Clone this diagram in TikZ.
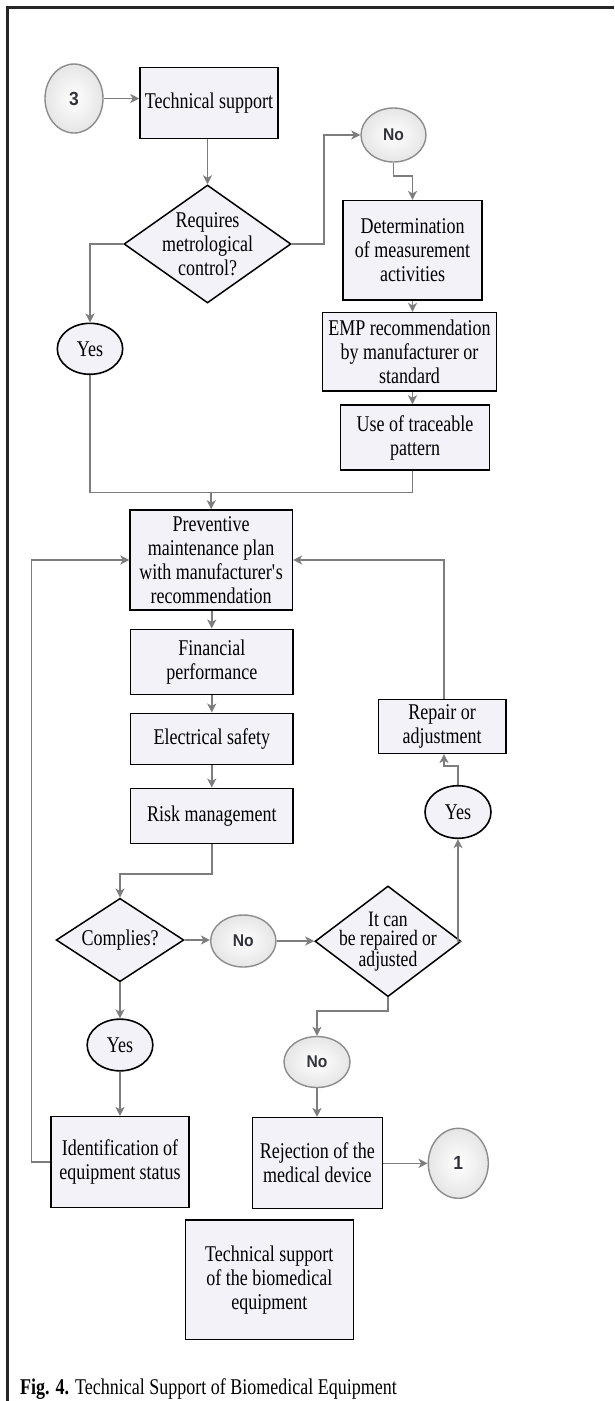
\documentclass[tikz,border=0pt]{standalone}
\usepackage{fontspec}
\setmainfont{Liberation Serif}[FakeStretch=0.8]
\newfontfamily\nofont{Liberation Sans}[FakeStretch=0.92]
\usetikzlibrary{shapes.geometric,arrows.meta,positioning}
\definecolor{boxfill}{RGB}{242,242,248}
\definecolor{conncol}{RGB}{125,125,125}
\definecolor{ovalline}{RGB}{140,140,140}
\definecolor{notext}{RGB}{50,50,60}
\tikzset{
  txt/.style={font=\fontsize{22.5}{24}\selectfont, align=center},
  box/.style={draw=black, line width=1.5pt, fill=boxfill, rectangle, inner sep=0pt, txt},
  dia/.style={draw=black, line width=1.5pt, fill=boxfill, diamond, inner sep=0pt},
  yesov/.style={draw=black, line width=1.6pt, fill=boxfill, ellipse, inner sep=0pt, txt},
  grayov/.style={draw=ovalline, line width=1.4pt, ellipse, inner sep=0pt, inner color=white, outer color=black!10, text=notext},
  conn/.style={draw=conncol, line width=1.6pt, -{Stealth[length=9pt,width=9pt,inset=2.5pt]}},
  plain/.style={draw=conncol, line width=1.6pt}
}
\begin{document}
\begin{tikzpicture}[x=1pt,y=-1pt]
\useasboundingbox (0,0) rectangle (614,1401);
% frame
\draw[line width=3pt, black!85] (7,1401) -- (7,7.3) -- (614,7.3);

% nodes
\node[grayov, minimum width=58, minimum height=69, font=\nofont\bfseries\fontsize{19}{20}\selectfont] (c3) at (74,98.5) {3};
\node[box, minimum width=138, minimum height=70.6] (ts) at (209,103) {Technical support};
\node[dia, minimum width=167, minimum height=118] (d1) at (207.5,244) {};
\node[txt] (d1t) at (207.5,244) {Requires\\metrological\\control?};
\node[grayov, minimum width=65, minimum height=54, font=\nofont\bfseries\fontsize{17}{18}\selectfont] (noA) at (393.5,135) {No};
\node[box, minimum width=139, minimum height=99.3] (dma) at (412.5,250.3) {Determination\\of measurement\\activities};
\node[box, minimum width=174.4, minimum height=78.3] (emp) at (409.5,351.8) {EMP recommendation\\by manufacturer or\\standard};
\node[box, minimum width=148.6, minimum height=65] (utp) at (415,437.5) {Use of traceable\\pattern};
\node[yesov, minimum width=65.4, minimum height=51] (yesA) at (90,348.8) {Yes};
\node[box, minimum width=162.3, minimum height=100] (pmp) at (211.2,560) {Preventive\\maintenance plan\\with manufacturer\textquotesingle s\\recommendation};
\node[box, minimum width=162.3, minimum height=65] (fp) at (211.8,661.8) {Financial\\performance};
\node[box, minimum width=162.3, minimum height=51] (es) at (211.8,738.8) {Electrical safety};
\node[box, minimum width=162.3, minimum height=55] (rm) at (211.8,815.8) {Risk management};
\node[box, minimum width=127.7, minimum height=54] (rep) at (442.2,726.3) {Repair or\\adjustment};
\node[yesov, minimum width=66, minimum height=52.6] (yesB) at (458,812) {Yes};
\node[dia, minimum width=127.7, minimum height=83.4] (comp) at (120,940) {};
\node[txt] (compt) at (120,940) {Complies?};
\node[grayov, minimum width=65.3, minimum height=52, font=\nofont\bfseries\fontsize{17}{18}\selectfont] (noB) at (243.3,941) {No};
\node[dia, minimum width=146, minimum height=110.7] (d2) at (388,941.3) {};
\node[txt, font=\fontsize{22}{19}\selectfont] (d2t) at (388,941.3) {It can\\be repaired or\\adjusted};
\node[yesov, minimum width=65.7, minimum height=51.7] (yesC) at (120,1045) {Yes};
\node[grayov, minimum width=66, minimum height=51, font=\nofont\bfseries\fontsize{17}{18}\selectfont] (noC) at (317,1062) {No};
\node[box, minimum width=138, minimum height=91] (ident) at (120,1162.2) {Identification of\\equipment status};
\node[box, minimum width=130, minimum height=90.6] (rej) at (317.3,1163) {Rejection of the\\medical device};
\node[grayov, minimum width=60, minimum height=70, font=\nofont\bfseries\fontsize{19}{20}\selectfont] (c1) at (458.3,1163.3) {1};
\node[box, minimum width=168, minimum height=119.3] (fin) at (269.3,1279.7) {Technical support\\of the biomedical\\equipment};
\node[anchor=base west, inner sep=0pt, font=\fontsize{22.5}{24}\selectfont] (cap) at (20,1394.5) {\textbf{Fig. 4.} Technical Support of Biomedical Equipment};

% connectors
\draw[conn] (c3.east) -- (c3.east -| ts.west);
\draw[conn] (d1.north |- ts.south) -- (d1.north);
\draw[conn] (d1.east) -- ++(32,0) |- (noA.west);
\draw[conn] (noA.south) -- ++(0,13) -| (dma.south |- dma.north);
\draw[conn] (dma.south) -- (dma.south |- emp.north);
\draw[conn] (dma.south |- emp.south) -- (dma.south |- utp.north);
\draw[conn] (d1.west) -| (yesA.north);
\coordinate (m1) at (211.2,492.3);
\draw[plain] (yesA.south) |- (m1);
\draw[plain] (dma.south |- utp.south) |- (m1);
\draw[conn] (m1) -- (pmp.north);
\draw[conn] (pmp.south -| fp.north) -- (fp.north);
\draw[conn] (fp.south) -- (es.north);
\draw[conn] (es.south) -- (rm.north);
\draw[conn] (rm.south) -- ++(0,30) -| (comp.north);
\draw[conn] (comp.east) -- (comp.east -| noB.west);
\draw[conn] (noB.east) -- (noB.east -| d2.west);
\draw[conn] (comp.south) -- (yesC.north);
\draw[conn] (yesC.south) -- (yesC.south |- ident.north);
\draw[conn] (ident.west) -- ++(-18.7,0) |- (pmp.west);
\draw[conn] (d2.east) -| (yesB.south);
\coordinate (rb) at (444,766);
\draw[conn] (yesB.north) |- (rb) -- (rb |- rep.south);
\draw[conn] (rb |- rep.north) |- (pmp.east);
\draw[conn] (d2.south) -- ++(0,13.3) -| (noC.north);
\draw[conn] (noC.south) -- (noC.south |- rej.north);
\draw[conn] (rej.east |- c1.west) -- (c1.west);
\end{tikzpicture}
\end{document}
